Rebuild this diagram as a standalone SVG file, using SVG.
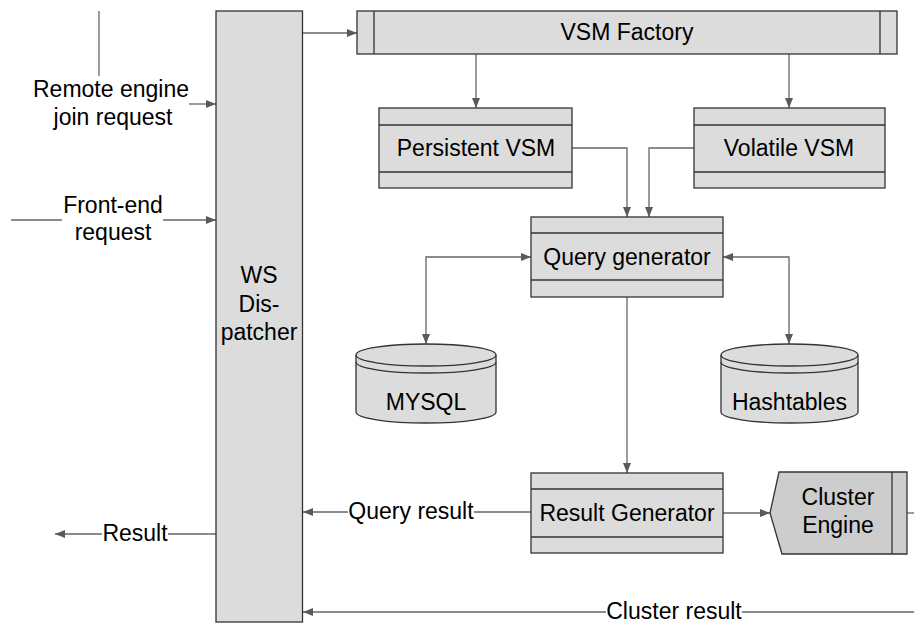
<svg xmlns="http://www.w3.org/2000/svg" width="914" height="623" viewBox="0 0 914 623">
<defs>
<style>
.n{fill:#dcdcdc;stroke:#333;stroke-width:1.3}
.d{fill:#cdcdcd;stroke:#333;stroke-width:1.3}
.l{fill:none;stroke:#333;stroke-width:1.3}
.c{fill:none;stroke:#666;stroke-width:1.3}
.a{marker-end:url(#ah)}
.b{marker-start:url(#ah);marker-end:url(#ah)}
text{font-family:"Liberation Sans",Arial,sans-serif;font-size:23px;fill:#000;text-anchor:middle}
</style>
<marker id="ah" viewBox="0 0 10 8" refX="10" refY="4" markerWidth="10" markerHeight="8" markerUnits="userSpaceOnUse" orient="auto-start-reverse">
<path d="M0,0 L10,4 L0,8 z" fill="#5a5a5a"/>
</marker>
</defs>

<g id="connectors">
<path class="c a" d="M303,33 H357"/>
<path class="c a" d="M476,54 V108"/>
<path class="c a" d="M789,54 V108"/>
<path class="c a" d="M572,148 H627 V217"/>
<path class="c a" d="M694,148 H649 V217"/>
<path class="c b" d="M426,344 V257 H531"/>
<path class="c b" d="M789,344 V257 H723"/>
<path class="c a" d="M627,297 V473"/>
<path class="c a" d="M723,513 H770"/>
<path class="c" d="M907,513 H914"/>
<path class="c" d="M531,512 H474"/>
<path class="c a" d="M348,512 H303"/>
<path class="c" d="M914,612 H742"/>
<path class="c a" d="M606,612 H303"/>
<path class="c" d="M216,534 H168"/>
<path class="c a" d="M102,534 H55"/>
<path class="c" d="M99,11 V76"/>
<path class="c a" d="M189,104 H216"/>
<path class="c" d="M11,220 H62"/>
<path class="c a" d="M163,220 H216"/>
</g>

<g id="labels">
<text x="111" y="97">Remote engine</text>
<text x="113" y="125">join request</text>
<text x="113" y="213">Front-end</text>
<text x="113" y="240">request</text>
<text x="135" y="541">Result</text>
<text x="411" y="519">Query result</text>
<text x="674" y="619">Cluster result</text>
</g>

<g id="ws-dispatcher">
<rect class="n" x="216" y="11" width="86.5" height="611"/>
<text x="259" y="283">WS</text>
<text x="259" y="312">Dis-</text>
<text x="259" y="340">patcher</text>
</g>

<g id="vsm-factory">
<rect class="n" x="357" y="11" width="540" height="43"/>
<path class="l" d="M374,11 V54 M880,11 V54"/>
<text x="627" y="40">VSM Factory</text>
</g>

<g id="persistent-vsm">
<rect class="n" x="379" y="108" width="193" height="80"/>
<path class="l" d="M379,125 H572 M379,172 H572"/>
<text x="476" y="156">Persistent VSM</text>
</g>

<g id="volatile-vsm">
<rect class="n" x="694" y="108" width="191" height="80"/>
<path class="l" d="M694,125 H885 M694,172 H885"/>
<text x="789" y="156">Volatile VSM</text>
</g>

<g id="query-generator">
<rect class="n" x="531" y="217" width="192" height="80"/>
<path class="l" d="M531,233 H723 M531,280 H723"/>
<text x="627" y="265">Query generator</text>
</g>

<g id="mysql">
<path class="n" d="M356,355 A70,11 0 0,1 496,355 V412 A70,11 0 0,1 356,412 Z"/>
<path class="l" d="M356,355 A70,11 0 0,0 496,355 M356,362 A70,11 0 0,0 496,362"/>
<text x="426" y="410">MYSQL</text>
</g>

<g id="hashtables">
<path class="n" d="M721,355 A68.5,11 0 0,1 858,355 V412 A68.5,11 0 0,1 721,412 Z"/>
<path class="l" d="M721,355 A68.5,11 0 0,0 858,355 M721,362 A68.5,11 0 0,0 858,362"/>
<text x="789.5" y="410">Hashtables</text>
</g>

<g id="result-generator">
<rect class="n" x="531" y="473" width="192" height="80"/>
<path class="l" d="M531,489 H723 M531,537 H723"/>
<text x="627" y="521">Result Generator</text>
</g>

<g id="cluster-engine">
<polygon class="d" points="770,513 779,472 907,472 907,554 782,554"/>
<path class="l" d="M892,472 V554"/>
<text x="838" y="505">Cluster</text>
<text x="838" y="533">Engine</text>
</g>
</svg>
